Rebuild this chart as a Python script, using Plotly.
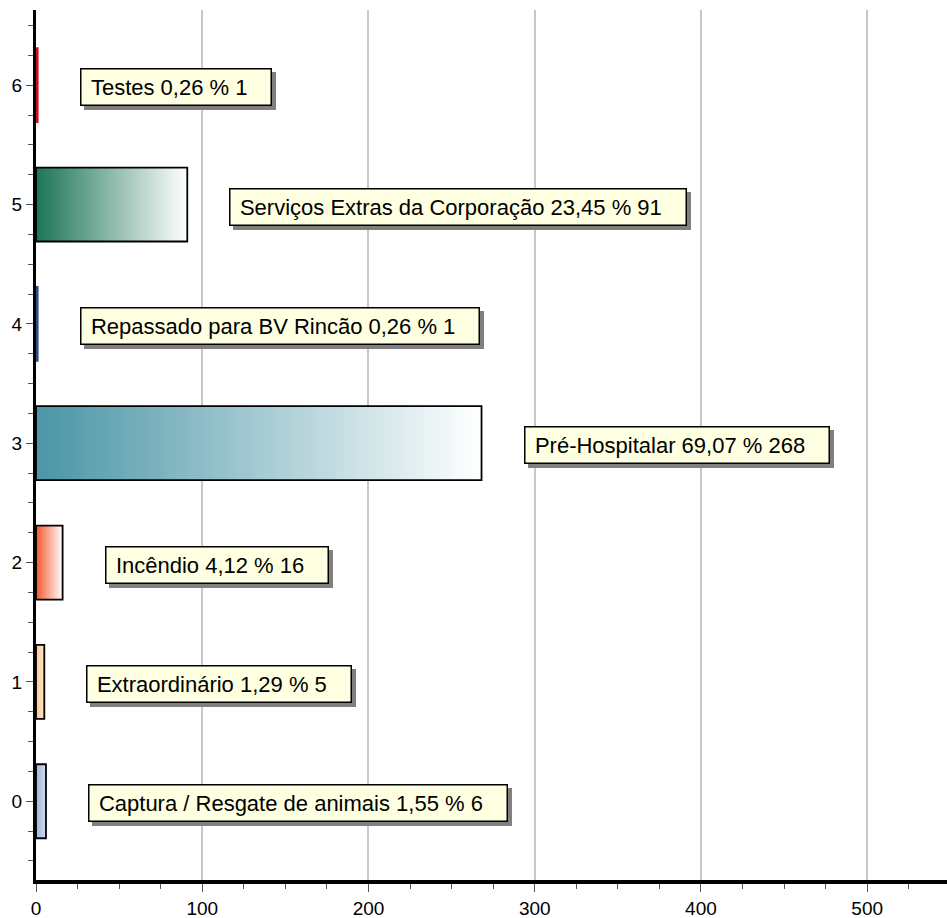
import plotly.graph_objects as go

categories = [0, 1, 2, 3, 4, 5, 6]
names = [
    "Captura / Resgate de animais",
    "Extraordinário",
    "Incêndio",
    "Pré-Hospitalar",
    "Repassado para BV Rincão",
    "Serviços Extras da Corporação",
    "Testes",
]
values = [6, 5, 16, 268, 1, 91, 1]

# styles (kept separate from data)
start_colors = ["#9fb5dc", "#fbcb94", "#f2582c", "#4a95a6", "#34488a", "#1c7458", "#c8101a"]
end_colors = ["#d2ddf0", "#fde4c6", "#ffffff", "#ffffff", "#34488a", "#ffffff", "#c8101a"]
bar_width = 0.62

total = sum(values)
fig = go.Figure()

for c, v, col, col_end in zip(categories, values, start_colors, end_colors):
    y0, y1 = c - bar_width / 2, c + bar_width / 2
    thin = v <= 1
    fig.add_trace(go.Scatter(
        x=[0, v, v, 0, 0],
        y=[y0, y0, y1, y1, y0],
        mode="lines",
        fill="toself",
        fillgradient=dict(type="horizontal",
                          colorscale=[[0, col], [1, col_end]]),
        line=dict(color=col if thin else "#000000", width=1.8),
        hoverinfo="skip",
        showlegend=False,
    ))

font_family = "Liberation Sans, Arial, sans-serif"
for c, v, n in zip(categories, values, names):
    pct = f"{100 * v / total:.2f}".replace(".", ",")
    label = "\u2009" + f"{n} {pct} % {v}" + "\u00a0\u00a0\u00a0"
    # shadow
    fig.add_annotation(x=v, y=c, xref="x", yref="y", text=label, showarrow=False,
                       xanchor="left", yanchor="middle", xshift=46, yshift=-6,
                       bgcolor="#808080", bordercolor="#808080", borderwidth=1.5,
                       borderpad=5, font=dict(family=font_family, size=22, color="#808080"))
    fig.add_annotation(x=v, y=c, xref="x", yref="y", text=label, showarrow=False,
                       xanchor="left", yanchor="middle", xshift=42, yshift=-2,
                       bgcolor="#ffffe1", bordercolor="#000000", borderwidth=1.5,
                       borderpad=5, font=dict(family=font_family, size=22, color="#000000"))

fig.update_layout(
    width=947, height=918,
    margin=dict(l=36, r=0, t=10, b=38),
    paper_bgcolor="white", plot_bgcolor="white",
    font=dict(family=font_family, size=19, color="#000000"),
    showlegend=False,
)
fig.update_xaxes(
    range=[0, 548], tickmode="linear", tick0=0, dtick=100, automargin=False,
    showgrid=True, gridcolor="#c8c8c8", gridwidth=1.5, zeroline=False,
    showline=True, linecolor="#000000", linewidth=4,
    ticks="outside", ticklen=8, tickcolor="#555555", tickwidth=1,
    minor=dict(dtick=25, ticks="outside", ticklen=5, tickcolor="#555555", showgrid=False),
    tickfont=dict(size=19),
)
fig.update_yaxes(
    range=[-0.66, 6.63], tickmode="array", tickvals=categories,
    ticktext=[str(c) for c in categories], automargin=False,
    showgrid=False, zeroline=False,
    showline=True, linecolor="#000000", linewidth=3,
    ticks="outside", ticklen=7, tickcolor="#555555", tickwidth=1,
    minor=dict(dtick=0.25, tick0=0, ticks="outside", ticklen=5, tickcolor="#555555", showgrid=False),
    tickfont=dict(size=19),
)

fig.write_html("out.html", config={"displayModeBar": False},
               post_script="document.body.style.margin='0';document.body.style.overflow='hidden';")
